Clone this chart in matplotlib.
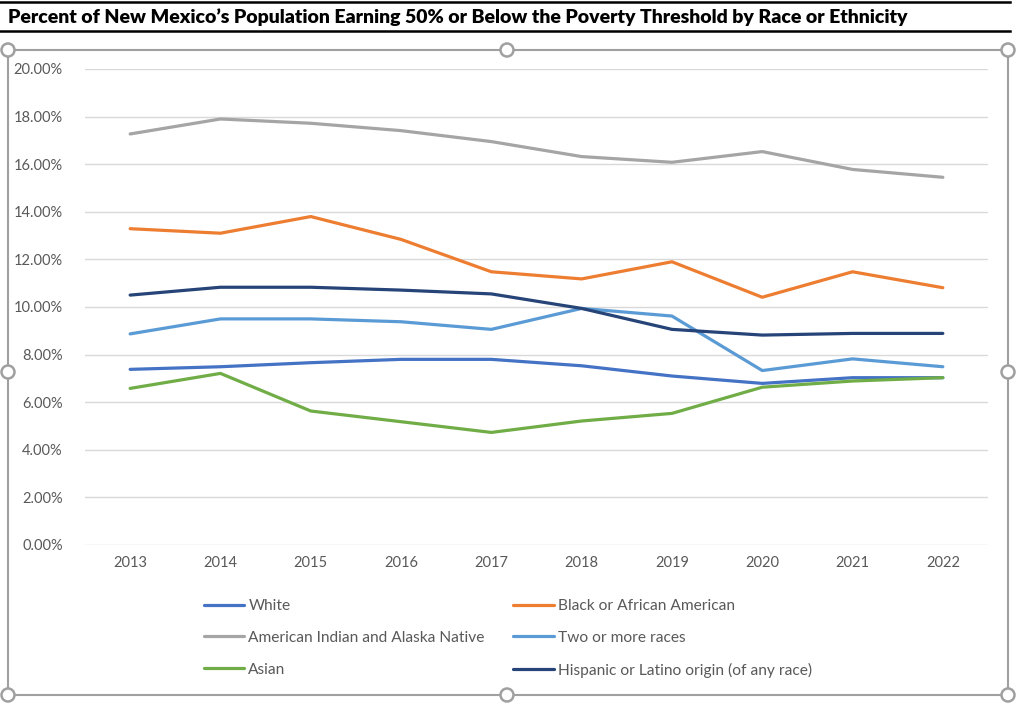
import matplotlib.pyplot as plt
from matplotlib.patches import Rectangle, Circle
from matplotlib.lines import Line2D
from matplotlib.ticker import FuncFormatter

years = [2013, 2014, 2015, 2016, 2017, 2018, 2019, 2020, 2021, 2022]

white = [7.38, 7.49, 7.66, 7.80, 7.80, 7.53, 7.10, 6.79, 7.03, 7.03]
black = [13.29, 13.10, 13.80, 12.84, 11.48, 11.18, 11.90, 10.41, 11.48, 10.81]
aian = [17.27, 17.90, 17.72, 17.41, 16.95, 16.32, 16.08, 16.53, 15.78, 15.45]
two_plus = [8.87, 9.50, 9.50, 9.38, 9.06, 9.94, 9.62, 7.33, 7.82, 7.49]
asian = [6.58, 7.21, 5.63, 5.18, 4.73, 5.21, 5.53, 6.63, 6.89, 7.03]
hispanic = [10.50, 10.83, 10.83, 10.71, 10.55, 9.94, 9.06, 8.82, 8.89, 8.89]

series = [
    ('White', white, '#4472C4'),
    ('Black or African American', black, '#ED7D31'),
    ('American Indian and Alaska Native', aian, '#A5A5A5'),
    ('Two or more races', two_plus, '#5B9BD5'),
    ('Asian', asian, '#70AD47'),
    ('Hispanic or Latino origin (of any race)', hispanic, '#264478'),
]

plt.rcParams['font.family'] = ['Lato', 'DejaVu Sans']

W, H = 1017, 716
fig = plt.figure(figsize=(W / 100, H / 100), dpi=100)


def fx(px):
    return px / W


def fy(py):
    return 1 - py / H


# title with black rules
fig.text(fx(8), fy(17), 'Percent of New Mexico\u2019s Population Earning 50% or Below the Poverty Threshold by Race or Ethnicity',
         fontsize=14, fontweight='heavy', color='black', ha='left', va='center')
for yy in (2, 31):
    fig.add_artist(Line2D([0, fx(1010)], [fy(yy), fy(yy)], color='black', lw=1.8))

# selection frame
frame_col = '#A0A0A0'
fig.add_artist(Rectangle((fx(8), fy(695)), fx(1000), fy(50) - fy(695), fill=False,
                         edgecolor=frame_col, lw=1.5))

ax = fig.add_axes([fx(85), fy(545), fx(988 - 85), fy(69) - fy(545)])
for name, vals, col in series:
    ax.plot(years, [v / 100 for v in vals], color=col, lw=2.3, label=name, solid_capstyle='round')

ax.set_xlim(2012.5, 2022.5)
ax.set_ylim(0, 0.2)
ax.set_xticks(years)
ax.set_yticks([i * 0.02 for i in range(11)])
ax.yaxis.set_major_formatter(FuncFormatter(lambda v, p: f'{v * 100:.2f}%'))
ax.grid(axis='y', color='#D9D9D9', lw=1)
ax.set_axisbelow(True)
for s in ax.spines.values():
    s.set_visible(False)
ax.tick_params(length=0, colors='#595959', labelsize=10.5, pad=8)
ax.tick_params(axis='y', pad=16)

# legend, filled row-wise like Excel
handles, labels = ax.get_legend_handles_labels()
order = [0, 2, 4, 1, 3, 5]
fig.legend([handles[i] for i in order], [labels[i] for i in order], ncol=2,
           loc='upper left', bbox_to_anchor=(fx(190), fy(585)), frameon=False,
           fontsize=11.2, labelcolor='#595959', handlelength=2.6, handletextpad=0.25,
           columnspacing=1.85, labelspacing=1.15)

# frame handles (pixel coords so they stay round)
for cx, cy in [(8, 50), (507, 50), (1008, 50), (8, 372), (1008, 372), (8, 695), (507, 695), (1008, 695)]:
    fig.add_artist(Circle((cx, H - cy), 6.5, transform=None, facecolor='white',
                          edgecolor=frame_col, lw=1.8, zorder=10))

fig.savefig('out.png', dpi=100)
